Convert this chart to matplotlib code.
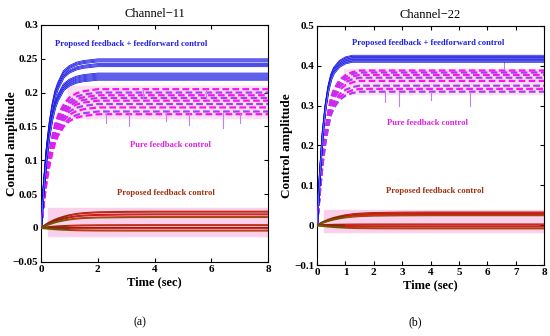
import numpy as np
from matplotlib import pyplot as plt

plt.rcParams['font.family'] = ['Liberation Serif', 'DejaVu Serif']

# time grid used for all curves (sec)
t = [0, 0.1, 0.2, 0.3, 0.4, 0.5, 0.6, 0.8, 1.0, 1.25, 1.5, 2.0, 3.0, 4.0, 5.0, 6.0, 7.0, 8.0]

# normalised rise shapes
shape_ff_11 = [0, 0.26, 0.47, 0.62, 0.73, 0.81, 0.86, 0.93, 0.96, 0.98, 0.99, 1, 1, 1, 1, 1, 1, 1]
shape_fb_11 = [0, 0.22, 0.41, 0.55, 0.66, 0.75, 0.81, 0.89, 0.94, 0.97, 0.985, 1, 1, 1, 1, 1, 1, 1]
shape_pf_11 = [0, 0.12, 0.24, 0.34, 0.43, 0.51, 0.58, 0.69, 0.78, 0.86, 0.91, 0.96, 0.99, 1, 1, 1, 1, 1]
shape_ff_22 = [0, 0.3, 0.55, 0.71, 0.82, 0.89, 0.93, 0.97, 0.99, 1, 1, 1, 1, 1, 1, 1, 1, 1]
shape_fb_22 = [0, 0.24, 0.46, 0.62, 0.74, 0.83, 0.88, 0.94, 0.97, 0.99, 1, 1, 1, 1, 1, 1, 1, 1]
shape_pf_22 = [0, 0.12, 0.24, 0.34, 0.43, 0.51, 0.58, 0.69, 0.78, 0.86, 0.91, 0.96, 0.99, 1, 1, 1, 1, 1]

# steady state levels of each curve
ff_11 = [0.249, 0.246, 0.242, 0.239, 0.228, 0.225, 0.222, 0.219]
fb_11 = [0.205, 0.200, 0.196, 0.192, 0.188, 0.183, 0.178, 0.172, 0.168]
pf_11 = [0.024, 0.020, 0.016, 0.004, 0.0, -0.004]

ff_22 = [0.425, 0.422, 0.418, 0.414, 0.410]
fb_22 = [0.388, 0.383, 0.377, 0.370, 0.362, 0.350, 0.342, 0.335]
pf_22 = [0.032, 0.028, 0.025, 0.002, -0.003, -0.008]

# downward glitches on the pure feedback curves (t, top, bottom)
spikes_11 = [(2.3, 0.17, 0.155), (3.1, 0.168, 0.15), (4.4, 0.17, 0.158), (5.2, 0.168, 0.152),
             (6.4, 0.17, 0.148), (7.0, 0.168, 0.155), (3.6, 0.205, 0.19), (5.8, 0.205, 0.192)]
spikes_22 = [(2.4, 0.335, 0.31), (2.9, 0.335, 0.3), (4.0, 0.335, 0.315), (5.4, 0.335, 0.3),
             (6.6, 0.41, 0.395)]

fig = plt.figure(figsize=(5.5, 3.36), dpi=100)
ax1 = fig.add_axes([0.0745, 0.221, 0.413, 0.705])
ax2 = fig.add_axes([0.5764, 0.211, 0.413, 0.712])

def draw(ax, ff, fb, pf, sff, sfb, spf, spikes):
    lo = min(pf)
    hi = max(pf)
    ax.axhspan(lo - 0.008, hi + 0.006, xmin=0.03, color='#FBD0EC', zorder=0)
    ax.axhspan(min(fb) - 0.005, max(fb) + 0.004, xmin=0.12, color='#FBE0F4', zorder=0)
    for i, lvl in enumerate(fb):
        c = '#FF10F0' if i % 2 == 0 else '#A040F0'
        ax.plot(t, np.array(sfb) * lvl, color=c, lw=1.6, ls=(0, (3, 1.5)), zorder=2)
    for x0, y0, y1 in spikes:
        ax.plot([x0, x0], [y0, y1], color='#C080F0', lw=0.8, zorder=2)
    for lvl in ff:
        ax.plot(t, np.array(sff) * lvl, color='#1010E0', lw=1.3, zorder=3)
        ax.plot(t, np.array(sff) * lvl, color='#C8C8FF', lw=0.3, zorder=3)
    cols = ['#8B3000', '#B01010', '#6B5A00']
    for i, lvl in enumerate(pf):
        ax.plot(t, np.array(spf) * lvl, color=cols[i % 3], lw=1.4, zorder=3)
        ax.plot(t[8:], np.array(spf[8:]) * lvl, color='#FF2020', lw=0.5, zorder=3)
    ax.set_xlim(0, 8)
    ax.tick_params(direction='in', top=True, right=True, labelsize=8, length=3, pad=2)
    ax.set_xlabel('Time (sec)', fontsize=9, fontweight='bold', labelpad=2)
    ax.set_ylabel('Control amplitude', fontsize=9.5, fontweight='bold')

draw(ax1, ff_11, fb_11, pf_11, shape_ff_11, shape_fb_11, shape_pf_11, spikes_11)
ax1.set_ylim(-0.05, 0.3)
ax1.set_xticks([0, 2, 4, 6, 8])
ax1.set_yticks([-0.05, 0, 0.05, 0.1, 0.15, 0.2, 0.25, 0.3])
ax1.set_yticklabels(['\u22120.05', '0', '0.05', '0.1', '0.15', '0.2', '0.25', '0.3'])
ax1.yaxis.set_label_coords(-0.1, 0.5)
ax1.set_title('Channel\u221211', fontsize=9, pad=6)
ax1.text(3.17, 0.272, 'Proposed feedback + feedforward control', color='#2020E0', fontsize=6.2,
         fontweight='bold', ha='center', va='center')
ax1.text(4.55, 0.122, 'Pure feedback control', color='#E020E0', fontsize=6.2,
         fontweight='bold', ha='center', va='center')
ax1.text(4.4, 0.052, 'Proposed feedback control', color='#A03010', fontsize=6.2,
         fontweight='bold', ha='center', va='center')

draw(ax2, ff_22, fb_22, pf_22, shape_ff_22, shape_fb_22, shape_pf_22, spikes_22)
ax2.set_ylim(-0.1, 0.5)
ax2.set_xticks([0, 1, 2, 3, 4, 5, 6, 7, 8])
ax2.set_yticks([-0.1, 0, 0.1, 0.2, 0.3, 0.4, 0.5])
ax2.set_yticklabels(['\u22120.1', '0', '0.1', '0.2', '0.3', '0.4', '0.5'])
ax2.yaxis.set_label_coords(-0.105, 0.5)
ax2.set_title('Channel\u221222', fontsize=9, pad=6)
ax2.text(3.9, 0.457, 'Proposed feedback + feedforward control', color='#2020E0', fontsize=6.2,
         fontweight='bold', ha='center', va='center')
ax2.text(3.9, 0.257, 'Pure feedback control', color='#E020E0', fontsize=6.2,
         fontweight='bold', ha='center', va='center')
ax2.text(4.16, 0.085, 'Proposed feedback control', color='#A03010', fontsize=6.2,
         fontweight='bold', ha='center', va='center')

for ax in (ax1, ax2):
    for lb in ax.get_xticklabels() + ax.get_yticklabels():
        lb.set_fontweight('bold')

fig.text(0.2545, 0.04, '(a)', fontsize=8.5, ha='center', va='center')
fig.text(0.7545, 0.04, '(b)', fontsize=8.5, ha='center', va='center')

fig.savefig('out.png', dpi=100)
